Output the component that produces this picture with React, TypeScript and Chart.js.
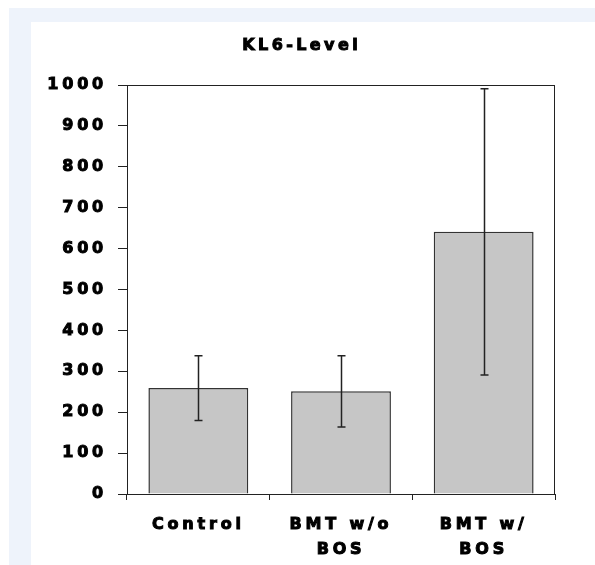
import React, { useEffect, useRef } from "react";
import { Chart, registerables } from "chart.js";

Chart.register(...registerables);

const categories: string[][] = [["Control"], ["BMT w/o", "BOS"], ["BMT w/", "BOS"]];
const means: number[] = [259, 251, 641];
const errors: number[] = [79, 87, 350];
const yTicks: number[] = [0, 100, 200, 300, 400, 500, 600, 700, 800, 900, 1000];
const titleText = "KL6-Level";

const LS = "3.8px";
const FAMILY = "'DejaVu Sans', sans-serif";
const FONT = { family: FAMILY, weight: "bold" as const, size: 16 };

const spacingPlugin = {
  id: "spacing",
  beforeUpdate(chart: any) {
    chart.ctx.letterSpacing = LS;
  },
  beforeLayout(chart: any) {
    chart.ctx.letterSpacing = LS;
  },
  beforeDraw(chart: any) {
    chart.ctx.letterSpacing = LS;
  },
};

const titlePlugin = {
  id: "heavyTitle",
  afterDraw(chart: any) {
    const { ctx, width } = chart;
    ctx.save();
    ctx.letterSpacing = "3.4px";
    ctx.font = `bold 16px ${FAMILY}`;
    ctx.textAlign = "center";
    ctx.textBaseline = "middle";
    ctx.fillStyle = "#000";
    ctx.strokeStyle = "#000";
    ctx.lineWidth = 1;
    const x = width / 2 + 1.7;
    const y = 24;
    ctx.fillText(titleText, x, y);
    ctx.strokeText(titleText, x, y);
    ctx.restore();
  },
};

const boxPlugin = {
  id: "box",
  afterDraw(chart: any) {
    const { ctx, chartArea } = chart;
    ctx.save();
    ctx.strokeStyle = "#222";
    ctx.lineWidth = 1;
    ctx.beginPath();
    ctx.moveTo(chartArea.left, chartArea.top + 0.5);
    ctx.lineTo(chartArea.right, chartArea.top + 0.5);
    ctx.moveTo(chartArea.right - 0.5, chartArea.top);
    ctx.lineTo(chartArea.right - 0.5, chartArea.bottom);
    ctx.stroke();
    ctx.restore();
  },
};

const errorPlugin = {
  id: "errorBars",
  afterDatasetsDraw(chart: any) {
    const { ctx } = chart;
    const xs = chart.scales.x;
    const ys = chart.scales.y;
    ctx.save();
    ctx.strokeStyle = "#222";
    ctx.lineWidth = 1.5;
    means.forEach((m, i) => {
      const x = Math.round(xs.getPixelForValue(i)) + 0.5;
      const yT = ys.getPixelForValue(m + errors[i]);
      const yB = ys.getPixelForValue(m - errors[i]);
      ctx.beginPath();
      ctx.moveTo(x, yT);
      ctx.lineTo(x, yB);
      ctx.moveTo(x - 4, yT);
      ctx.lineTo(x + 4, yT);
      ctx.moveTo(x - 4, yB);
      ctx.lineTo(x + 4, yB);
      ctx.stroke();
    });
    ctx.restore();
  },
};

export default function App() {
  const ref = useRef<HTMLCanvasElement | null>(null);
  useEffect(() => {
    if (!ref.current) return;
    const chart = new Chart(ref.current, {
      type: "bar",
      data: {
        labels: categories as any,
        datasets: [
          {
            data: means,
            backgroundColor: "#c6c6c6",
            borderColor: "#333",
            borderWidth: 1.5,
            barPercentage: 0.7,
            categoryPercentage: 1,
          },
        ],
      },
      options: {
        animation: false,
        responsive: true,
        maintainAspectRatio: false,
        layout: { padding: { left: 0, right: 14, top: 63, bottom: 0 } },
        plugins: {
          legend: { display: false },
          tooltip: { enabled: false },
          title: { display: false },
        },
        scales: {
          x: {
            grid: {
              display: true,
              drawOnChartArea: false,
              drawTicks: true,
              tickLength: 6,
              color: "#222",
              offset: true,
            },
            border: { display: true, color: "#222", width: 1 },
            ticks: {
              color: "#000",
              font: { ...FONT, lineHeight: 25 / 16 },
              padding: 12,
              maxRotation: 0,
              autoSkip: false,
              textStrokeColor: "#000",
              textStrokeWidth: 1,
            } as any,
            afterFit(scale: any) {
              scale.height = 71;
            },
          },
          y: {
            min: 0,
            max: 1000,
            afterBuildTicks(scale: any) {
              scale.ticks = yTicks.map((v) => ({ value: v }));
            },
            grid: {
              display: true,
              drawOnChartArea: false,
              drawTicks: true,
              tickLength: 9,
              color: "#222",
            },
            border: { display: true, color: "#222", width: 1 },
            ticks: {
              color: "#000",
              font: FONT,
              padding: 11,
              callback: (v: any) => String(v),
              textStrokeColor: "#000",
              textStrokeWidth: 1,
            } as any,
            afterFit(scale: any) {
              scale.width = 96;
            },
          },
        },
      },
      plugins: [spacingPlugin, boxPlugin, errorPlugin, titlePlugin],
    });
    return () => chart.destroy();
  }, []);

  return (
    <div
      style={{
        position: "fixed",
        left: 9,
        top: 8,
        right: 0,
        bottom: 0,
        background: "#eef3fb",
      }}
    >
      <div
        style={{
          position: "absolute",
          left: 22,
          top: 14,
          right: 0,
          bottom: 0,
          background: "#fff",
        }}
      >
        <div style={{ position: "absolute", left: 0, top: 0, width: 538, height: 543 }}>
          <canvas ref={ref} />
        </div>
      </div>
    </div>
  );
}
